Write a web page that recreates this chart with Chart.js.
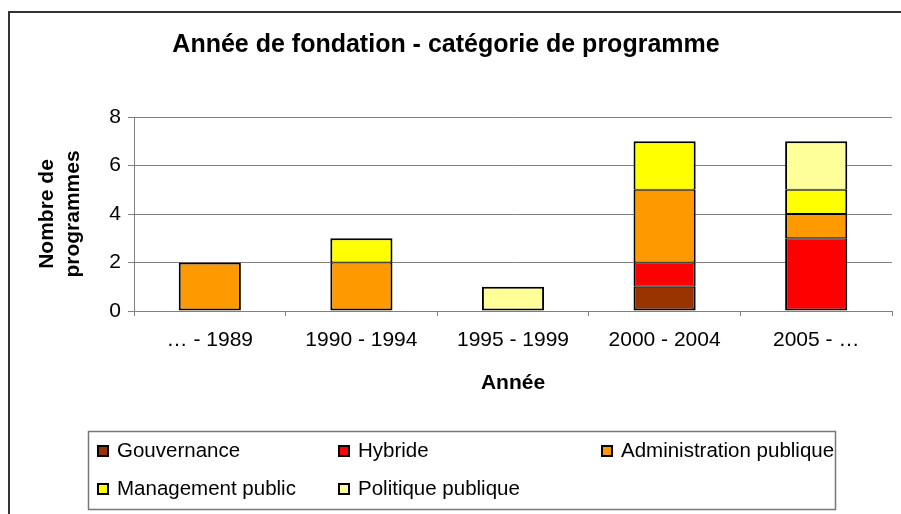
<!DOCTYPE html>
<html><head><meta charset="utf-8">
<script src="https://cdn.jsdelivr.net/npm/chart.js@4/dist/chart.umd.min.js"></script>
<style>html,body{margin:0;padding:0;background:#fff;}#wrap{width:901px;height:514px;position:relative;}</style>
</head><body><div id="wrap"><canvas id="c" width="901" height="514"></canvas></div>
<script>
const categories = ['… - 1989', '1990 - 1994', '1995 - 1999', '2000 - 2004', '2005 - …'];
const gouvernance    = [null, null, null, 1, null];
const hybride        = [null, null, null, 1, 3];
const administration = [2, 2, null, 3, 1];
const management     = [null, 1, null, 2, 1];
const politique      = [null, null, 1, null, 2];
const seriesNames  = ['Gouvernance', 'Hybride', 'Administration publique', 'Management public', 'Politique publique'];
const seriesColors = ['#993300', '#FF0000', '#FF9900', '#FFFF00', '#FFFF99'];
const yTickValues = [0, 2, 4, 6, 8];
const chartTitle = 'Année de fondation - catégorie de programme';
const xTitle = 'Année';
const yTitle = ['Nombre de', 'programmes'];

const FONT = "'Liberation Sans', Arial, sans-serif";
const seriesData = [gouvernance, hybride, administration, management, politique];

function segBorder(ctx) {
  const i = ctx.datasetIndex, j = ctx.dataIndex;
  let above = false, below = false;
  for (let k = 0; k < seriesData.length; k++) {
    if (seriesData[k][j] == null) continue;
    if (k > i) above = true;
    if (k < i) below = true;
  }
  return {left: 2, right: 2, top: above ? 1 : 2, bottom: below ? 1 : 2};
}

const framePlugin = {
  id: 'frame',
  beforeDraw(chart) {
    const ctx = chart.ctx;
    ctx.save();
    ctx.fillStyle = '#fff';
    ctx.fillRect(0, 0, chart.width, chart.height);
    ctx.strokeStyle = '#333';
    ctx.lineWidth = 2;
    ctx.beginPath();
    ctx.moveTo(9, chart.height + 2);
    ctx.lineTo(9, 12);
    ctx.lineTo(chart.width + 2, 12);
    ctx.stroke();
    ctx.restore();
  }
};

const legendPlugin = {
  id: 'boxLegend',
  afterDraw(chart) {
    const ctx = chart.ctx;
    const box = {x: 88.5, y: 431.5, w: 747, h: 78};
    const cols = [97, 338, 601];
    const rows = [451, 489];
    ctx.save();
    ctx.strokeStyle = '#777';
    ctx.lineWidth = 1.5;
    ctx.strokeRect(box.x, box.y, box.w, box.h);
    ctx.font = '20.5px ' + FONT;
    ctx.textBaseline = 'middle';
    ctx.textAlign = 'left';
    chart.data.datasets.forEach((ds, i) => {
      const cx = cols[i % 3], cy = rows[Math.floor(i / 3)];
      ctx.fillStyle = ds.backgroundColor;
      ctx.fillRect(cx, cy - 6, 12, 12);
      ctx.strokeStyle = '#000';
      ctx.lineWidth = 2;
      ctx.strokeRect(cx + 1, cy - 5, 10, 10);
      ctx.fillStyle = '#000';
      ctx.fillText(ds.label, cx + 20, cy);
    });
    ctx.restore();
  }
};

new Chart(document.getElementById('c'), {
  type: 'bar',
  data: {
    labels: categories,
    datasets: seriesNames.map((name, i) => ({
      label: name,
      data: seriesData[i],
      backgroundColor: seriesColors[i],
      borderColor: '#000',
      borderWidth: segBorder,
      borderSkipped: false,
      categoryPercentage: 1,
      barPercentage: 0.41
    }))
  },
  options: {
    responsive: false,
    animation: false,
    layout: {padding: {left: 0, right: 9, top: 0, bottom: 114}},
    plugins: {
      legend: {display: false},
      tooltip: {enabled: false},
      title: {
        display: true,
        text: chartTitle,
        color: '#000',
        font: {family: FONT, size: 25, weight: 'bold', lineHeight: 1.2},
        padding: {top: 30, bottom: 57}
      }
    },
    scales: {
      x: {
        stacked: true,
        afterFit(s) { s.height = 89; },
        grid: {display: true, drawOnChartArea: false, drawTicks: true, tickLength: 5, offset: true, color: '#808080', lineWidth: 1},
        border: {display: true, color: '#808080', width: 1},
        ticks: {color: '#000', font: {family: FONT, size: 21}, padding: 12, maxRotation: 0, autoSkip: false},
        title: {display: true, text: xTitle, color: '#000', font: {family: FONT, size: 21, weight: 'bold', lineHeight: 1.2}, padding: {top: 0, bottom: 4}}
      },
      y: {
        stacked: true,
        min: 0, max: 8,
        afterFit(s) { s.width = 134; },
        afterBuildTicks(s) { s.ticks = yTickValues.map(v => ({value: v})); },
        grid: {color: '#808080', lineWidth: 1, drawTicks: true, tickLength: 6},
        border: {display: true, color: '#808080', width: 1},
        ticks: {color: '#000', font: {family: FONT, size: 21}, padding: 7},
        title: {display: true, text: yTitle, color: '#000', font: {family: FONT, size: 21, weight: 'bold', lineHeight: 1.2}, padding: {top: 35, bottom: 0}}
      }
    }
  },
  plugins: [framePlugin, legendPlugin]
});
</script></body></html>
